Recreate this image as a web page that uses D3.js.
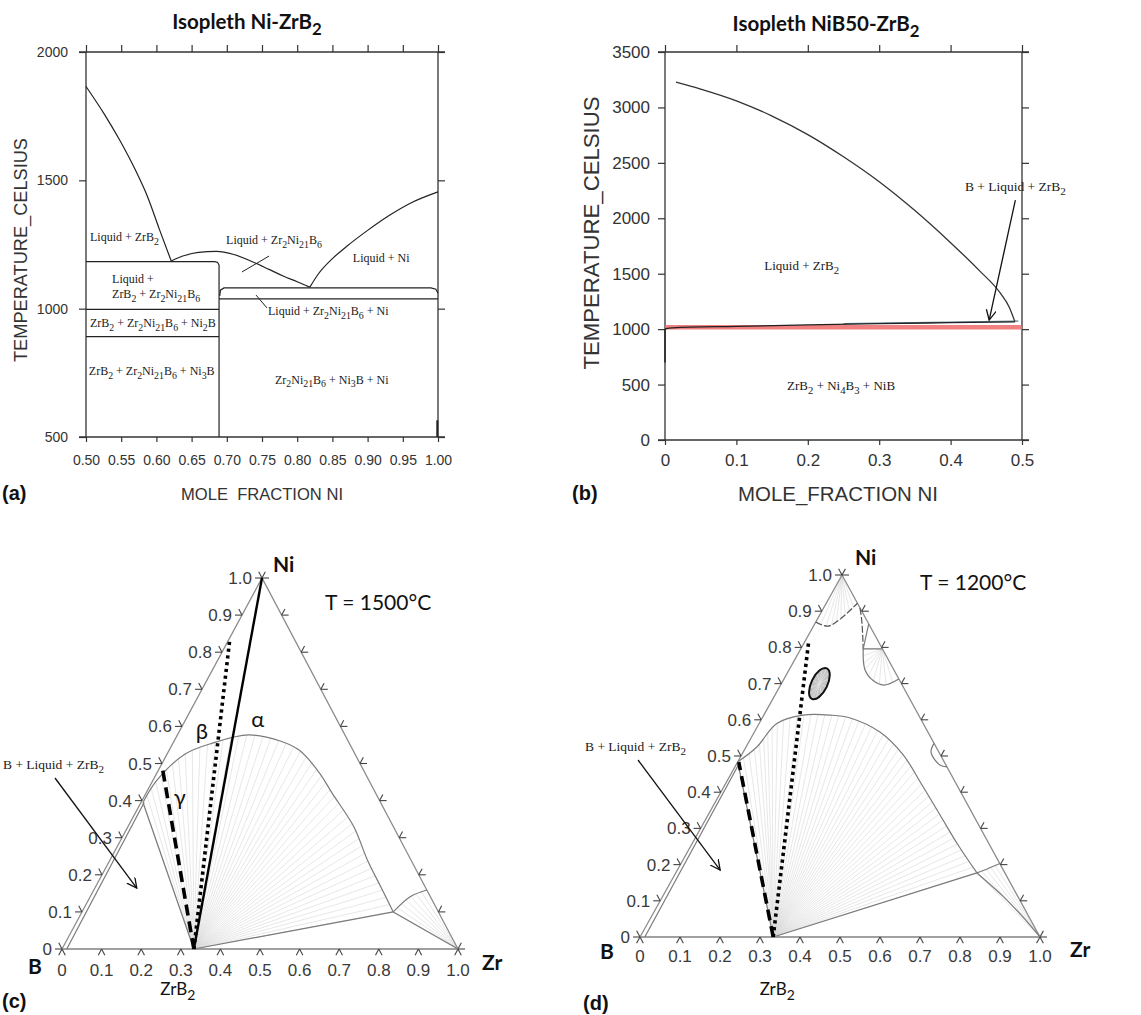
<!DOCTYPE html>
<html lang="en">
<head>
<meta charset="UTF-8">
<title>Ni-Zr-B isopleths and isothermal sections</title>
<style>
  body { margin: 0; background: #fff; }
  svg { display: block; font-family: "Liberation Sans", Arial, sans-serif; }
  .tick text { fill: #333; }
  .times { font-family: "Liberation Serif", "Times New Roman", serif; fill: #1a1a1a; }
  .title { font-family: Lato, "Open Sans", sans-serif; font-weight: bold; fill: #111; }
  .calib { font-family: Lato, "Open Sans", sans-serif; fill: #111; }
</style>
</head>
<body>
<svg id="fig" width="1141" height="1015"></svg>
<script src="https://d3js.org/d3.v7.min.js"></script>
<script>
// ---------- panel (a): isopleth Ni-ZrB2 (mole fraction Ni, T in C) ----------
const aXTicks = [0.50, 0.55, 0.60, 0.65, 0.70, 0.75, 0.80, 0.85, 0.90, 0.95, 1.00];
const aYTicks = [500, 1000, 1500, 2000];
const aLiqLeft = [[0.50, 1866], [0.526, 1758], [0.548, 1656], [0.570, 1541], [0.587, 1439], [0.604, 1311], [0.621, 1186]];
const aLiqDome = [[0.621, 1186], [0.64, 1207], [0.66, 1219], [0.685, 1223], [0.71, 1211], [0.738, 1181], [0.76, 1153], [0.78, 1127], [0.80, 1105], [0.818, 1084]];
const aLiqRight = [[0.818, 1084], [0.83, 1135], [0.85, 1195], [0.87, 1242], [0.90, 1305], [0.93, 1362], [0.96, 1410], [1.00, 1455]];
const aStep1183 = [[0.50, 1183], [0.683, 1183], [0.687, 1180], [0.689, 1170], [0.689, 500]];
const aStep1081 = [[0.690, 1050], [0.691, 1072], [0.696, 1081], [0.990, 1081], [0.997, 1076], [1.00, 1060]];
const aLine1038 = [[0.689, 1038], [1.00, 1038]];
const aLine997 = [[0.50, 997], [0.689, 997]];
const aLine891 = [[0.50, 891], [0.689, 891]];
const aNiEdge = [[0.999, 500], [0.999, 565]];

// ---------- panel (b): isopleth NiB50-ZrB2 ----------
const bXTicks = [0, 0.1, 0.2, 0.3, 0.4, 0.5];
const bYTicks = [0, 500, 1000, 1500, 2000, 2500, 3000, 3500];
const bLiquidus = [[0.0154, 3229], [0.05, 3166], [0.1, 3060], [0.15, 2922], [0.2, 2755], [0.25, 2555], [0.3, 2330], [0.35, 2070], [0.4, 1780], [0.44, 1530], [0.47, 1322], [0.482, 1200], [0.49, 1068]];
const bSolidus = [[0, 1002], [0.01, 1012], [0.1, 1025], [0.2, 1038], [0.3, 1049], [0.4, 1058], [0.49, 1066]];
const bUpper = [[0.25, 1050], [0.4, 1064], [0.495, 1072]];
const bRed = [[0, 1016], [0.5, 1016]];
const bSpike = [[0, 1002], [0, 700]];

// ---------- ternary sections (mole fraction Zr, mole fraction Ni) ----------
const ternTicks = [0, 0.1, 0.2, 0.3, 0.4, 0.5, 0.6, 0.7, 0.8, 0.9, 1.0];
const ternLabels = ["0", "0.1", "0.2", "0.3", "0.4", "0.5", "0.6", "0.7", "0.8", "0.9", "1.0"];
const zrb2 = [0.333, 0];

// (c) T = 1500 C
const cDome = [[0.005, 0.395], [0.01, 0.455], [0.045, 0.525], [0.10, 0.555], [0.18, 0.577], [0.27, 0.56], [0.33, 0.535], [0.41, 0.475], [0.47, 0.42], [0.57, 0.33], [0.65, 0.24], [0.72, 0.168], [0.786, 0.10]];
const cArc = [[0.786, 0.10], [0.808, 0.141], [0.841, 0.159]];
const cBLiq = [[0.012, 0], [0.008, 0.395]];
const cAlpha = [zrb2, [0, 1]];
const cBeta = [zrb2, [0.002, 0.835]];
const cGamma = [zrb2, [0.009, 0.485]];

// (d) T = 1200 C
const dDome = [[0.0, 0.484], [0.027, 0.525], [0.044, 0.59], [0.098, 0.613], [0.166, 0.613], [0.22, 0.605], [0.314, 0.566], [0.404, 0.503], [0.493, 0.42], [0.58, 0.337], [0.667, 0.254], [0.753, 0.177]];
const dDomeTail = [[0.753, 0.177], [0.853, 0.111], [0.93, 0.055], [1, 0]];
const dEdgeArc = [[0.753, 0.177], [0.776, 0.19], [0.797, 0.203]];
const dTopArc = [[0, 0.87], [0.038, 0.859], [0.078, 0.922]];
const dDashArc = [[0.091, 0.909], [0.113, 0.874], [0.135, 0.835], [0.156, 0.796]];
const dTriangle = [[0.135, 0.865], [0.156, 0.796], [0.204, 0.796]];
const dLowerArc = [[0.156, 0.796], [0.189, 0.739], [0.224, 0.709], [0.258, 0.696], [0.287, 0.713]];
const dLoop = [[0.465, 0.535], [0.47, 0.51], [0.51, 0.475], [0.53, 0.47]];
const dBLiq = [[0.012, 0], [0.006, 0.484]];
const dLens = [0.095, 0.70];
const dBeta = [zrb2, [0.01, 0.815]];
const dGamma = [zrb2, [0.003, 0.483]];

const svg = d3.select("#fig");
svg.append("rect").attr("width", 1141).attr("height", 1015).attr("fill", "#fff");

const defs = svg.append("defs");
defs.append("marker").attr("id", "arr").attr("markerUnits", "userSpaceOnUse")
  .attr("markerWidth", 14).attr("markerHeight", 14).attr("refX", 10).attr("refY", 5).attr("orient", "auto")
  .append("path").attr("d", "M0,0 L10,5 L0,10").attr("fill", "none").attr("stroke", "#111").attr("stroke-width", 1.3);

// text with _n subscripts
function rich(sel, str, fs) {
  const parts = str.split(/(_\d+)/).filter(s => s.length);
  let sub = false;
  parts.forEach(p => {
    if (p[0] === "_") {
      sel.append("tspan").attr("dy", sub ? null : fs * 0.3).attr("font-size", fs * 0.82).text(p.slice(1));
      sub = true;
    } else {
      sel.append("tspan").attr("dy", sub ? -fs * 0.3 : null).text(p);
      sub = false;
    }
  });
  return sel;
}

function label(g, x, y, str, fs, cls, anchor) {
  const t = g.append("text").attr("x", x).attr("y", y).attr("font-size", fs)
    .attr("class", cls || "times").attr("text-anchor", anchor || "start");
  return rich(t, str, fs);
}

function drawFrame(g, x, y, xt, yt, fmtX, fs, padX, padY) {
  const [xl, xr] = x.range(), [yb, ytop] = y.range();
  const fr = g.append("g").attr("stroke", "#333").attr("stroke-width", 1.3);
  fr.append("line").attr("x1", xl - 7).attr("x2", xr + 7).attr("y1", ytop).attr("y2", ytop);
  fr.append("line").attr("x1", xl - 7).attr("x2", xr + 7).attr("y1", yb).attr("y2", yb);
  fr.append("line").attr("x1", xl).attr("x2", xl).attr("y1", ytop).attr("y2", yb);
  fr.append("line").attr("x1", xr).attr("x2", xr).attr("y1", ytop).attr("y2", yb);
  const style = a => {
    a.select(".domain").remove();
    a.attr("font-family", null).attr("font-size", fs);
    a.selectAll("line").attr("stroke", "#333").attr("stroke-width", 1.2);
  };
  g.append("g").attr("transform", `translate(0,${yb})`)
    .call(d3.axisBottom(x).tickValues(xt).tickFormat(fmtX).tickSize(5).tickPadding(padX)).call(style);
  g.append("g").attr("transform", `translate(0,${ytop})`)
    .call(d3.axisTop(x).tickValues(xt).tickFormat("").tickSize(7)).call(style);
  g.append("g").attr("transform", `translate(${xl},0)`)
    .call(d3.axisLeft(y).tickValues(yt).tickFormat(d3.format("d")).tickSize(7).tickPadding(padY)).call(style);
  g.append("g").attr("transform", `translate(${xr},0)`)
    .call(d3.axisRight(y).tickValues(yt).tickFormat("").tickSize(7)).call(style);
}

// ================= panel (a) =================
const ga = svg.append("g");
const xA = d3.scaleLinear().domain([0.5, 1]).range([86, 438]);
const yA = d3.scaleLinear().domain([500, 2000]).range([437, 52]);
drawFrame(ga, xA, yA, aXTicks, aYTicks, d3.format(".2f"), 14, 13, 11);

const lineA = d3.line().x(d => xA(d[0])).y(d => yA(d[1]));
const curveA = d3.line().x(d => xA(d[0])).y(d => yA(d[1])).curve(d3.curveMonotoneX);
const pa = ga.append("g").attr("fill", "none").attr("stroke", "#222").attr("stroke-width", 1.2);
[aLiqLeft, aLiqDome, aLiqRight].forEach(s => pa.append("path").attr("d", curveA(s)));
[aStep1183, aStep1081, aLine1038, aLine997, aLine891].forEach(s => pa.append("path").attr("d", lineA(s)));
pa.append("path").attr("d", lineA(aNiEdge)).attr("stroke-width", 2);
pa.append("line").attr("x1", xA(0.7216)).attr("y1", yA(1143)).attr("x2", xA(0.76)).attr("y2", yA(1205)).attr("stroke-width", 1);
pa.append("line").attr("x1", xA(0.7415)).attr("y1", yA(1053)).attr("x2", xA(0.757)).attr("y2", yA(1003)).attr("stroke-width", 1);

label(ga, xA(0.5057), yA(1262), "Liquid + ZrB_2", 12);
label(ga, xA(0.699), yA(1252), "Liquid + Zr_2Ni_21B_6", 12);
label(ga, xA(0.879), yA(1180), "Liquid + Ni", 12);
label(ga, xA(0.537), yA(1100), "Liquid +", 12);
label(ga, xA(0.537), yA(1040), "ZrB_2 + Zr_2Ni_21B_6", 12);
label(ga, xA(0.5057), yA(927), "ZrB_2 + Zr_2Ni_21B_6 + Ni_2B", 12);
label(ga, xA(0.504), yA(740), "ZrB_2 + Zr_2Ni_21B_6 + Ni_3B", 12);
label(ga, xA(0.7585), yA(975), "Liquid + Zr_2Ni_21B_6 + Ni", 12);
label(ga, xA(0.7685), yA(707), "Zr_2Ni_21B_6 + Ni_3B + Ni", 12);

label(ga, 247, 29, "Isopleth Ni-ZrB_2", 20.5, "title", "middle");
ga.append("text").attr("x", 262).attr("y", 500).attr("font-size", 17).attr("fill", "#333")
  .attr("text-anchor", "middle").attr("textLength", 162).attr("lengthAdjust", "spacingAndGlyphs")
  .style("white-space", "pre").text("MOLE  FRACTION NI");
ga.append("text").attr("transform", "translate(27,250) rotate(-90)").attr("font-size", 18).attr("fill", "#333")
  .attr("text-anchor", "middle").attr("textLength", 224).attr("lengthAdjust", "spacingAndGlyphs")
  .text("TEMPERATURE_CELSIUS");
ga.append("text").attr("x", 2).attr("y", 500).attr("font-size", 20).attr("font-weight", "bold").attr("fill", "#111").text("(a)");

// ================= panel (b) =================
const gb = svg.append("g");
const xB = d3.scaleLinear().domain([0, 0.5]).range([665, 1022]);
const yB = d3.scaleLinear().domain([0, 3500]).range([440, 52]);
drawFrame(gb, xB, yB, bXTicks, bYTicks, d => d === 0 ? "0" : d3.format(".1f")(d), 17, 9, 8);

const lineB = d3.line().x(d => xB(d[0])).y(d => yB(d[1]));
const curveB = d3.line().x(d => xB(d[0])).y(d => yB(d[1])).curve(d3.curveMonotoneX);
const pb = gb.append("g").attr("fill", "none");
pb.append("path").attr("d", lineB(bRed)).attr("stroke", "#ee6a6a").attr("stroke-width", 4.5).attr("stroke-opacity", 0.85);
pb.append("path").attr("d", curveB(bUpper)).attr("stroke", "#5f7f86").attr("stroke-width", 1.2);
pb.append("path").attr("d", curveB(bSolidus)).attr("stroke", "#222").attr("stroke-width", 1.3);
pb.append("path").attr("d", lineB(bSpike)).attr("stroke", "#222").attr("stroke-width", 1.5);
pb.append("path").attr("d", curveB(bLiquidus)).attr("stroke", "#333").attr("stroke-width", 1.3);
pb.append("line").attr("x1", xB(0.4907)).attr("y1", yB(2163)).attr("x2", xB(0.454)).attr("y2", yB(1082))
  .attr("stroke", "#111").attr("stroke-width", 1.3).attr("marker-end", "url(#arr)");

label(gb, xB(0.139), yB(1530), "Liquid + ZrB_2", 13);
label(gb, xB(0.171), yB(450), "ZrB_2 + Ni_4B_3 + NiB", 13);
label(gb, xB(0.42), yB(2244), "B + Liquid + ZrB_2", 13.5);

label(gb, 826, 31, "Isopleth NiB50-ZrB_2", 20.5, "title", "middle");
gb.append("text").attr("x", 838).attr("y", 501).attr("font-size", 20).attr("fill", "#333")
  .attr("text-anchor", "middle").attr("textLength", 200).attr("lengthAdjust", "spacingAndGlyphs")
  .text("MOLE_FRACTION NI");
gb.append("text").attr("transform", "translate(599,233) rotate(-90)").attr("font-size", 22).attr("fill", "#333")
  .attr("text-anchor", "middle").attr("textLength", 273).attr("lengthAdjust", "spacingAndGlyphs")
  .text("TEMPERATURE_CELSIUS");
gb.append("text").attr("x", 572).attr("y", 500).attr("font-size", 20).attr("font-weight", "bold").attr("fill", "#111").text("(b)");

// ================= ternary helpers =================
function tern(B, Z, N) {
  const x = d3.scaleLinear().domain([0, 1]).range([B[0], Z[0]]);
  const y = d3.scaleLinear().domain([0, 1]).range([B[1], N[1]]);
  const s = d3.scaleLinear().domain([0, 1]).range([0, N[0] - B[0]]);
  return d => [x(d[0]) + s(d[1]), y(d[1])];
}

function unit(a, b) {
  const dx = b[0] - a[0], dy = b[1] - a[1], l = Math.hypot(dx, dy);
  return [dx / l, dy / l];
}

function drawTernary(g, T, labDy) {
  const pB = T([0, 0]), pZ = T([1, 0]), pN = T([0, 1]);
  const u0 = unit(pB, pZ), u1 = unit(pB, pN), u2 = unit(pZ, pN);
  const L = 7;
  g.append("path").attr("d", `M${pB}L${pZ}L${pN}Z`).attr("fill", "none").attr("stroke", "#8c8c8c").attr("stroke-width", 1.3);
  g.append("line").attr("x1", pB[0]).attr("y1", pB[1]).attr("x2", pZ[0]).attr("y2", pZ[1]).attr("stroke", "#a0a0a0").attr("stroke-width", 2.2);
  const tk = g.append("g").attr("stroke", "#444").attr("stroke-width", 1.1);
  const leg = (p, u, sgn) => tk.append("line").attr("x1", p[0]).attr("y1", p[1])
    .attr("x2", p[0] + sgn * L * u[0]).attr("y2", p[1] + sgn * L * u[1]);
  ternTicks.forEach((t, i) => {
    const pb = T([t, 0]);
    leg(pb, u1, -1); leg(pb, u2, -1);
    const pl = T([0, t]);
    leg(pl, u0, -1); leg(pl, u2, 1);
    const pr = T([1 - t, t]);
    leg(pr, u0, 1); leg(pr, u1, 1);
    g.append("text").attr("x", pl[0] - 10).attr("y", pl[1] + 6).attr("text-anchor", "end")
      .attr("font-size", 17).attr("fill", "#3a3a3a").text(ternLabels[i]);
    g.append("text").attr("x", pb[0]).attr("y", pb[1] + labDy).attr("text-anchor", "middle")
      .attr("font-size", 17).attr("fill", "#3a3a3a").text(ternLabels[i]);
  });
}

function fan(g, from, pathSel, n, color) {
  const node = pathSel.node(), len = node.getTotalLength();
  for (let i = 0; i <= n; i++) {
    const pt = node.getPointAtLength(len * i / n);
    g.append("line").attr("x1", from[0]).attr("y1", from[1]).attr("x2", pt.x).attr("y2", pt.y)
      .attr("stroke", color || "#d6d6d6").attr("stroke-width", 0.6);
  }
}

function boldLines(g, lineT, beta, gamma, alpha) {
  if (alpha) g.append("path").attr("d", lineT(alpha)).attr("stroke", "#000").attr("stroke-width", 2.4).attr("fill", "none");
  g.append("path").attr("d", lineT(beta)).attr("stroke", "#000").attr("stroke-width", 3.6)
    .attr("stroke-dasharray", "3.2 3.6").attr("fill", "none");
  g.append("path").attr("d", lineT(gamma)).attr("stroke", "#000").attr("stroke-width", 3.6)
    .attr("stroke-dasharray", "11 6").attr("fill", "none");
}

// ================= panel (c) =================
const gc = svg.append("g");
const Tc = tern([62, 949], [458, 949], [262, 578]);
const lineC = d3.line().x(d => Tc(d)[0]).y(d => Tc(d)[1]);
const smoothC = d3.line().x(d => Tc(d)[0]).y(d => Tc(d)[1]).curve(d3.curveCatmullRom.alpha(0.5));
const tieC = gc.append("g");
drawTernary(gc, Tc, 27);
const phC = gc.append("g").attr("fill", "none").attr("stroke", "#7a7a7a").attr("stroke-width", 1.2);
const domeC = phC.append("path").attr("d", smoothC(cDome));
const arcC = phC.append("path").attr("d", smoothC(cArc));
phC.append("path").attr("d", lineC([cDome[0], zrb2]));
phC.append("path").attr("d", lineC([cDome[cDome.length - 1], zrb2]));
phC.append("path").attr("d", lineC([cDome[cDome.length - 1], [1, 0]]));
phC.append("path").attr("d", lineC(cBLiq));
fan(tieC, Tc(zrb2), domeC, 46);
fan(tieC, Tc([1, 0]), arcC, 7);
boldLines(gc, lineC, cBeta, cGamma, cAlpha);

const pBc = Tc([0, 0]), pZc = Tc([1, 0]), pNc = Tc([0, 1]), pXc = Tc(zrb2);
gc.append("text").attr("x", pNc[0] + 11).attr("y", pNc[1] - 6).attr("font-size", 21).attr("font-weight", "bold").attr("class", "calib").text("Ni");
gc.append("text").attr("x", pBc[0] - 34).attr("y", pBc[1] + 25).attr("font-size", 21).attr("font-weight", "bold").attr("class", "calib").text("B");
gc.append("text").attr("x", pZc[0] + 24).attr("y", pZc[1] + 21).attr("font-size", 21).attr("font-weight", "bold").attr("class", "calib").text("Zr");
label(gc, pXc[0] - 16, pXc[1] + 46, "ZrB_2", 17, "calib", "middle");
gc.append("text").attr("x", pNc[0] + 63).attr("y", pNc[1] + 32).attr("font-size", 21).attr("class", "calib").text("T = 1500°C");
[["α", [0.183, 0.617]], ["β", [0.057, 0.586]], ["γ", [0.092, 0.407]]].forEach(([s, p]) => {
  const q = Tc(p);
  gc.append("text").attr("x", q[0]).attr("y", q[1] + 7).attr("text-anchor", "middle").attr("font-size", 22).attr("class", "calib").text(s);
});
label(gc, pBc[0] - 59, pBc[1] - 180, "B + Liquid + ZrB_2", 13.5);
const tipC = Tc([0.106, 0.164]);
gc.append("line").attr("x1", pBc[0] - 7).attr("y1", pBc[1] - 171).attr("x2", tipC[0]).attr("y2", tipC[1])
  .attr("stroke", "#111").attr("stroke-width", 1.3).attr("marker-end", "url(#arr)");
gc.append("text").attr("x", 2).attr("y", 1008).attr("font-size", 20).attr("font-weight", "bold").attr("fill", "#111").text("(c)");

// ================= panel (d) =================
const gd = svg.append("g");
const Td = tern([640, 937], [1040, 937], [842, 575]);
const lineD = d3.line().x(d => Td(d)[0]).y(d => Td(d)[1]);
const smoothD = d3.line().x(d => Td(d)[0]).y(d => Td(d)[1]).curve(d3.curveCatmullRom.alpha(0.5));
const tieD = gd.append("g");
drawTernary(gd, Td, 25);
const phD = gd.append("g").attr("fill", "none").attr("stroke", "#7a7a7a").attr("stroke-width", 1.2);
const domeD = phD.append("path").attr("d", smoothD(dDome));
phD.append("path").attr("d", smoothD(dDomeTail));
const edgeArcD = phD.append("path").attr("d", smoothD(dEdgeArc));
const topArcD = phD.append("path").attr("d", smoothD(dTopArc)).attr("stroke", "#555").attr("stroke-dasharray", "7 2");
phD.append("path").attr("d", smoothD(dDashArc)).attr("stroke", "#555").attr("stroke-dasharray", "7 2");
phD.append("path").attr("d", lineD(dTriangle));
const lowArcD = phD.append("path").attr("d", smoothD(dLowerArc));
phD.append("path").attr("d", smoothD(dLoop));
phD.append("path").attr("d", lineD([dDome[dDome.length - 1], zrb2]));
phD.append("path").attr("d", lineD([dDome[0], zrb2]));
phD.append("path").attr("d", lineD(dBLiq));
fan(tieD, Td(zrb2), domeD, 48);
fan(tieD, Td([1, 0]), edgeArcD, 5);
fan(tieD, Td([0, 1]), topArcD, 9);
fan(tieD, Td(dTriangle[2]), lowArcD, 9);

const lc = Td(dLens);
const lens = gd.append("g").attr("transform", `translate(${lc[0]},${lc[1]}) rotate(26)`);
lens.append("ellipse").attr("rx", 8).attr("ry", 17).attr("fill", "#c4c4c4");
[0, 30, 60, 90, 120, 150].forEach(a => {
  const r = (a * Math.PI) / 180;
  lens.append("line").attr("x1", -7 * Math.sin(r)).attr("y1", -16 * Math.cos(r)).attr("x2", 7 * Math.sin(r)).attr("y2", 16 * Math.cos(r))
    .attr("stroke", "#e8e8e8").attr("stroke-width", 0.6);
});
lens.append("ellipse").attr("rx", 8).attr("ry", 17).attr("fill", "none").attr("stroke", "#111").attr("stroke-width", 2);

boldLines(gd, lineD, dBeta, dGamma, null);

const pBd = Td([0, 0]), pZd = Td([1, 0]), pNd = Td([0, 1]), pXd = Td(zrb2);
gd.append("text").attr("x", pNd[0] + 13).attr("y", pNd[1] - 10).attr("font-size", 21).attr("font-weight", "bold").attr("class", "calib").text("Ni");
gd.append("text").attr("x", pBd[0] - 40).attr("y", pBd[1] + 22).attr("font-size", 21).attr("font-weight", "bold").attr("class", "calib").text("B");
gd.append("text").attr("x", pZd[0] + 30).attr("y", pZd[1] + 20).attr("font-size", 21).attr("font-weight", "bold").attr("class", "calib").text("Zr");
label(gd, pXd[0] + 4, pXd[1] + 58, "ZrB_2", 17, "calib", "middle");
gd.append("text").attr("x", pNd[0] + 78).attr("y", pNd[1] + 15).attr("font-size", 21).attr("class", "calib").text("T = 1200°C");
label(gd, pBd[0] - 55, pBd[1] - 186, "B + Liquid + ZrB_2", 13.5);
const tipD = Td([0.107, 0.185]);
gd.append("line").attr("x1", pBd[0] - 2).attr("y1", pBd[1] - 177).attr("x2", tipD[0]).attr("y2", tipD[1])
  .attr("stroke", "#111").attr("stroke-width", 1.3).attr("marker-end", "url(#arr)");
gd.append("text").attr("x", 583).attr("y", 1010).attr("font-size", 20).attr("font-weight", "bold").attr("fill", "#111").text("(d)");
</script>
</body>
</html>
